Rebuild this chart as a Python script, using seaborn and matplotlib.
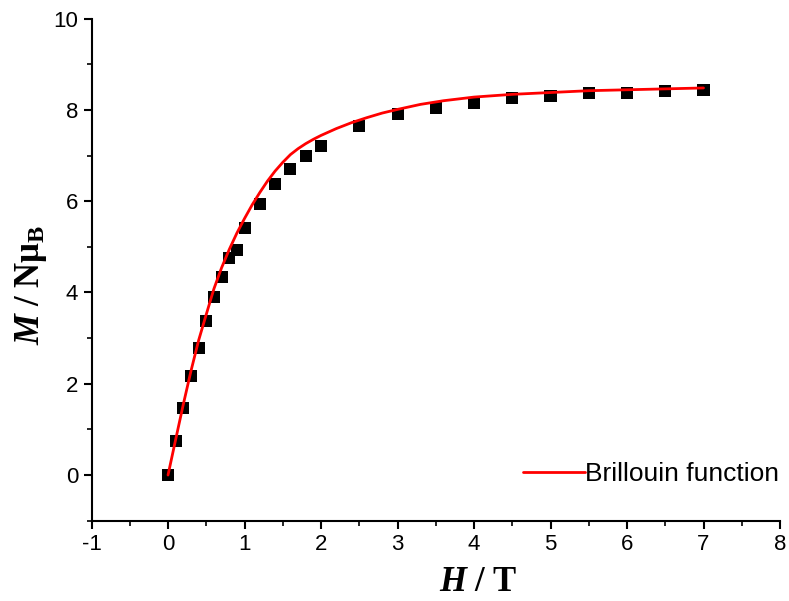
import matplotlib
matplotlib.use("Agg")
import matplotlib.pyplot as plt
from matplotlib.ticker import MultipleLocator
import seaborn as sns
import pandas as pd

# measured magnetisation (squares)
H_data = [0, 0.1, 0.2, 0.3, 0.4, 0.5, 0.6, 0.7, 0.8, 0.9, 1.0, 1.2, 1.4, 1.6, 1.8, 2.0,
          2.5, 3.0, 3.5, 4.0, 4.5, 5.0, 5.5, 6.0, 6.5, 7.0]
M_data = [0, 0.75, 1.46, 2.16, 2.79, 3.37, 3.89, 4.34, 4.75, 4.93, 5.42, 5.94, 6.37, 6.70, 6.99, 7.21,
          7.64, 7.90, 8.05, 8.16, 8.25, 8.31, 8.36, 8.38, 8.41, 8.43]

# Brillouin curve
H_fit = [0, 0.1, 0.2, 0.3, 0.4, 0.5, 0.6, 0.7, 0.8, 0.9, 1.0, 1.1, 1.2, 1.3, 1.4, 1.5,
         1.6, 1.7, 1.8, 1.9, 2.0, 2.2, 2.4, 2.6, 2.8, 3.0, 3.3, 3.6, 4.0, 4.5, 5.0,
         5.5, 6.0, 6.5, 7.0]
M_fit = [0, 0.78, 1.55, 2.28, 2.95, 3.52, 4.08, 4.54, 4.94, 5.30, 5.62, 5.92, 6.19, 6.44, 6.66, 6.85,
         7.02, 7.15, 7.26, 7.355, 7.44, 7.59, 7.72, 7.83, 7.93, 8.01, 8.12, 8.20, 8.28, 8.34, 8.38,
         8.42, 8.44, 8.46, 8.48]

sns.set_theme(style="ticks")
plt.rcParams["font.family"] = ["Liberation Sans", "DejaVu Sans"]
plt.rcParams["axes.unicode_minus"] = False
plt.rcParams["text.color"] = "black"
plt.rcParams["axes.labelcolor"] = "black"
plt.rcParams["xtick.color"] = "black"
plt.rcParams["ytick.color"] = "black"
plt.rcParams["mathtext.fontset"] = "custom"
plt.rcParams["mathtext.rm"] = "Liberation Serif"
plt.rcParams["mathtext.bf"] = "Liberation Serif:bold"
plt.rcParams["mathtext.it"] = "Liberation Serif:italic"
plt.rcParams["mathtext.bfit"] = "Liberation Serif:italic:bold"

df_pts = pd.DataFrame({"H": H_data, "M": M_data})
df_fit = pd.DataFrame({"H": H_fit, "M": M_fit})

fig = plt.figure(figsize=(7.89, 6.01), dpi=100)
ax = fig.add_axes([0.116, 0.1336, 0.8726, 0.8355])

sns.scatterplot(data=df_pts, x="H", y="M", marker="s", s=75, color="black",
                edgecolor="none", ax=ax, zorder=2)
sns.lineplot(data=df_fit, x="H", y="M", color="red", lw=2, sort=False,
             estimator=None, ax=ax, label="Brillouin function", zorder=3)

ax.set_xlim(-1, 8)
ax.set_ylim(-1, 10)
ax.xaxis.set_major_locator(MultipleLocator(1))
ax.xaxis.set_minor_locator(MultipleLocator(0.5))
ax.yaxis.set_major_locator(MultipleLocator(2))
ax.yaxis.set_minor_locator(MultipleLocator(1))
ax.tick_params(which="major", length=6, width=1.5, labelsize=16, color="black")
ax.tick_params(which="minor", length=3.5, width=1.2, color="black")
for s in ["left", "bottom"]:
    ax.spines[s].set_linewidth(1.5)
    ax.spines[s].set_color("black")
sns.despine(ax=ax)

ax.set_xlabel(r"$\mathbfit{H}\ \mathbf{/\ T}$", fontsize=25)
ax.set_ylabel(r"$\mathbfit{M}\ \mathbf{/\ N\mu_{B}}$", fontsize=25)
ax.xaxis.set_label_coords(0.561, -0.089)
ax.yaxis.set_label_coords(-0.062, 0.469)

ax.legend(loc="center right", bbox_to_anchor=(1.014, 0.093), frameon=False,
          fontsize=19, handlelength=2.35, handletextpad=0, borderaxespad=0)

fig.savefig("out.png", dpi=100)
